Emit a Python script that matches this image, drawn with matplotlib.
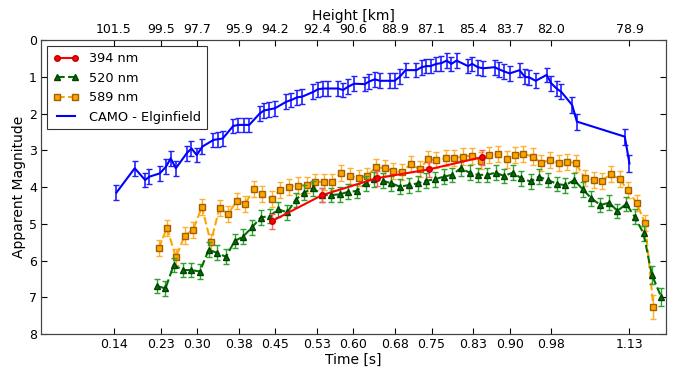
import matplotlib
matplotlib.use("Agg")
import matplotlib.pyplot as plt
from matplotlib.lines import Line2D

# ---- data ----
camo_t = [0.145, 0.180, 0.200, 0.208, 0.228, 0.240, 0.249, 0.259, 0.280, 0.289,
          0.299, 0.310, 0.331, 0.340, 0.349, 0.369, 0.379, 0.390, 0.400, 0.420,
          0.428, 0.438, 0.449, 0.471, 0.481, 0.492, 0.502, 0.523, 0.532, 0.542,
          0.551, 0.571, 0.580, 0.590, 0.601, 0.622, 0.630, 0.641, 0.651, 0.670,
          0.679, 0.689, 0.700, 0.721, 0.731, 0.740, 0.748, 0.759, 0.769, 0.779,
          0.788, 0.798, 0.820, 0.828, 0.839, 0.849, 0.871, 0.880, 0.890, 0.900,
          0.919, 0.929, 0.938, 0.950, 0.971, 0.980, 0.990, 0.999, 1.020, 1.029,
          1.121, 1.130]
camo_m = [4.15, 3.49, 3.81, 3.72, 3.63, 3.45, 3.22, 3.49, 3.08, 2.95,
          3.13, 2.90, 2.72, 2.70, 2.68, 2.34, 2.31, 2.31, 2.31, 2.00,
          1.92, 1.89, 1.86, 1.68, 1.63, 1.56, 1.54, 1.41, 1.34, 1.32,
          1.32, 1.32, 1.36, 1.27, 1.19, 1.20, 1.13, 1.07, 1.11, 1.11,
          1.11, 1.00, 0.82, 0.82, 0.74, 0.71, 0.71, 0.65, 0.63, 0.56,
          0.65, 0.56, 0.71, 0.65, 0.74, 0.77, 0.74, 0.80, 0.86, 0.91,
          0.82, 1.00, 1.02, 1.11, 0.95, 1.18, 1.32, 1.41, 1.77, 2.22,
          2.63, 3.36]
camo_err = [0.2] * 68 + [0.22, 0.22, 0.22, 0.22]

red_t = [0.443, 0.540, 0.645, 0.745, 0.846]
red_m = [4.93, 4.22, 3.76, 3.52, 3.19]
red_err = [0.2, 0.2, 0.2, 0.2, 0.2]

green_t = [0.222, 0.239, 0.255, 0.272, 0.289, 0.305, 0.322, 0.338, 0.355, 0.372,
           0.388, 0.405, 0.422, 0.439, 0.456, 0.473, 0.489, 0.505, 0.523, 0.540,
           0.556, 0.574, 0.590, 0.606, 0.624, 0.640, 0.656, 0.673, 0.689, 0.706,
           0.723, 0.740, 0.756, 0.773, 0.789, 0.806, 0.823, 0.839, 0.856, 0.873,
           0.889, 0.906, 0.922, 0.940, 0.956, 0.974, 0.991, 1.007, 1.024, 1.040,
           1.057, 1.074, 1.091, 1.107, 1.124, 1.140, 1.157, 1.173, 1.191]
green_m = [6.69, 6.76, 6.12, 6.26, 6.26, 6.30, 5.71, 5.79, 5.90, 5.47,
           5.35, 5.10, 4.83, 4.79, 4.61, 4.69, 4.35, 4.15, 4.04, 4.22,
           4.22, 4.20, 4.13, 4.11, 3.90, 3.79, 3.83, 3.90, 3.99, 3.95,
           3.90, 3.83, 3.79, 3.72, 3.67, 3.49, 3.61, 3.67, 3.67, 3.61,
           3.70, 3.61, 3.76, 3.85, 3.72, 3.81, 3.92, 3.95, 3.81, 4.06,
           4.31, 4.49, 4.43, 4.65, 4.46, 4.81, 5.26, 6.39, 6.99]
green_err = [0.2] * 57 + [0.25, 0.25]

orange_t = [0.226, 0.242, 0.259, 0.276, 0.292, 0.309, 0.326, 0.343, 0.359, 0.376,
            0.392, 0.409, 0.425, 0.443, 0.459, 0.476, 0.493, 0.510, 0.526, 0.543,
            0.559, 0.577, 0.593, 0.610, 0.626, 0.643, 0.660, 0.676, 0.693, 0.710,
            0.727, 0.743, 0.759, 0.777, 0.793, 0.810, 0.827, 0.844, 0.860, 0.878,
            0.894, 0.910, 0.926, 0.944, 0.960, 0.977, 0.994, 1.011, 1.027, 1.044,
            1.061, 1.077, 1.094, 1.111, 1.127, 1.144, 1.160, 1.176]
orange_m = [5.67, 5.11, 5.91, 5.32, 5.17, 4.54, 5.51, 4.56, 4.74, 4.38,
            4.46, 4.05, 4.20, 4.33, 4.08, 3.99, 3.96, 3.95, 3.86, 3.86,
            3.86, 3.61, 3.70, 3.76, 3.70, 3.46, 3.49, 3.56, 3.60, 3.37,
            3.52, 3.24, 3.27, 3.22, 3.22, 3.17, 3.15, 3.28, 3.13, 3.10,
            3.25, 3.13, 3.10, 3.17, 3.34, 3.27, 3.34, 3.31, 3.36, 3.75,
            3.81, 3.83, 3.65, 3.79, 4.08, 4.44, 4.99, 7.26]
orange_err = [0.22] * 57 + [0.32]

time_ticks = [0.14, 0.23, 0.30, 0.38, 0.45, 0.53, 0.60, 0.68, 0.75, 0.83, 0.90, 0.98, 1.13]
time_labels = ["0.14", "0.23", "0.30", "0.38", "0.45", "0.53", "0.60", "0.68",
               "0.75", "0.83", "0.90", "0.98", "1.13"]
height_labels = ["101.5", "99.5", "97.7", "95.9", "94.2", "92.4", "90.6", "88.9",
                 "87.1", "85.4", "83.7", "82.0", "78.9"]
mag_ticks = [0, 1, 2, 3, 4, 5, 6, 7, 8]
series_labels = ['394 nm', '520 nm', '589 nm', 'CAMO - Elginfield']

# ---- plot ----
plt.rcParams['font.family'] = ['DejaVu Sans']
plt.rcParams['font.size'] = 9

fig = plt.figure(figsize=(6.74, 3.67), dpi=100)
ax = fig.add_axes([0.0608, 0.0899, 0.9272, 0.8011])

red_style = dict(color='red', marker='o', markersize=4, linestyle='-', linewidth=1.5,
                 markeredgecolor='#c00000')
green_style = dict(color='#007000', marker='^', markersize=5, linestyle='--', linewidth=1.5,
                   markeredgecolor='#004000')
orange_style = dict(color='orange', marker='s', markersize=5, linestyle='--', linewidth=1.5,
                    markeredgecolor='#a06000', markerfacecolor='orange')
blue_style = dict(color='blue', linestyle='-', linewidth=1.5)

ax.errorbar(red_t, red_m, yerr=red_err, ecolor='#ff6060', elinewidth=1, capsize=2,
            zorder=4, **red_style)
ax.errorbar(green_t, green_m, yerr=green_err, ecolor='#30a030', elinewidth=1, capsize=2,
            zorder=3, **green_style)
ax.errorbar(orange_t, orange_m, yerr=orange_err, ecolor='#ffb030', elinewidth=1, capsize=2,
            zorder=2, **orange_style)
ax.errorbar(camo_t, camo_m, yerr=camo_err, ecolor='#2020ff', elinewidth=1.2, capsize=2,
            zorder=2, **blue_style)

ax.set_xlim(0.0, 1.2)
ax.set_ylim(8, 0)
ax.set_yticks(mag_ticks)
ax.set_xticks(time_ticks)
ax.set_xticklabels(time_labels)
ax.set_xlabel('Time [s]', fontsize=10, labelpad=1)
ax.set_ylabel('Apparent Magnitude', fontsize=10, labelpad=2)
ax.tick_params(direction='in', length=4, top=False, right=True, pad=3)

ax2 = ax.twiny()
ax2.set_xlim(ax.get_xlim())
ax2.set_xticks(time_ticks)
ax2.set_xticklabels(height_labels)
ax2.set_xlabel('Height [km]', fontsize=10, labelpad=2)
ax2.tick_params(direction='in', length=4, pad=3)

for a in (ax, ax2):
    for s in a.spines.values():
        s.set_color('#444444')

handles = [Line2D([], [], **red_style), Line2D([], [], **green_style),
           Line2D([], [], **orange_style), Line2D([], [], **blue_style)]
leg = ax.legend(handles, series_labels, loc='upper left', fancybox=False, framealpha=1,
                edgecolor='#333333', fontsize=9.3, handlelength=2.0, numpoints=2,
                borderpad=0.45, labelspacing=0.5, handletextpad=0.8, borderaxespad=0.5)
leg.get_frame().set_linewidth(0.8)

fig.savefig('out.png', dpi=100)
